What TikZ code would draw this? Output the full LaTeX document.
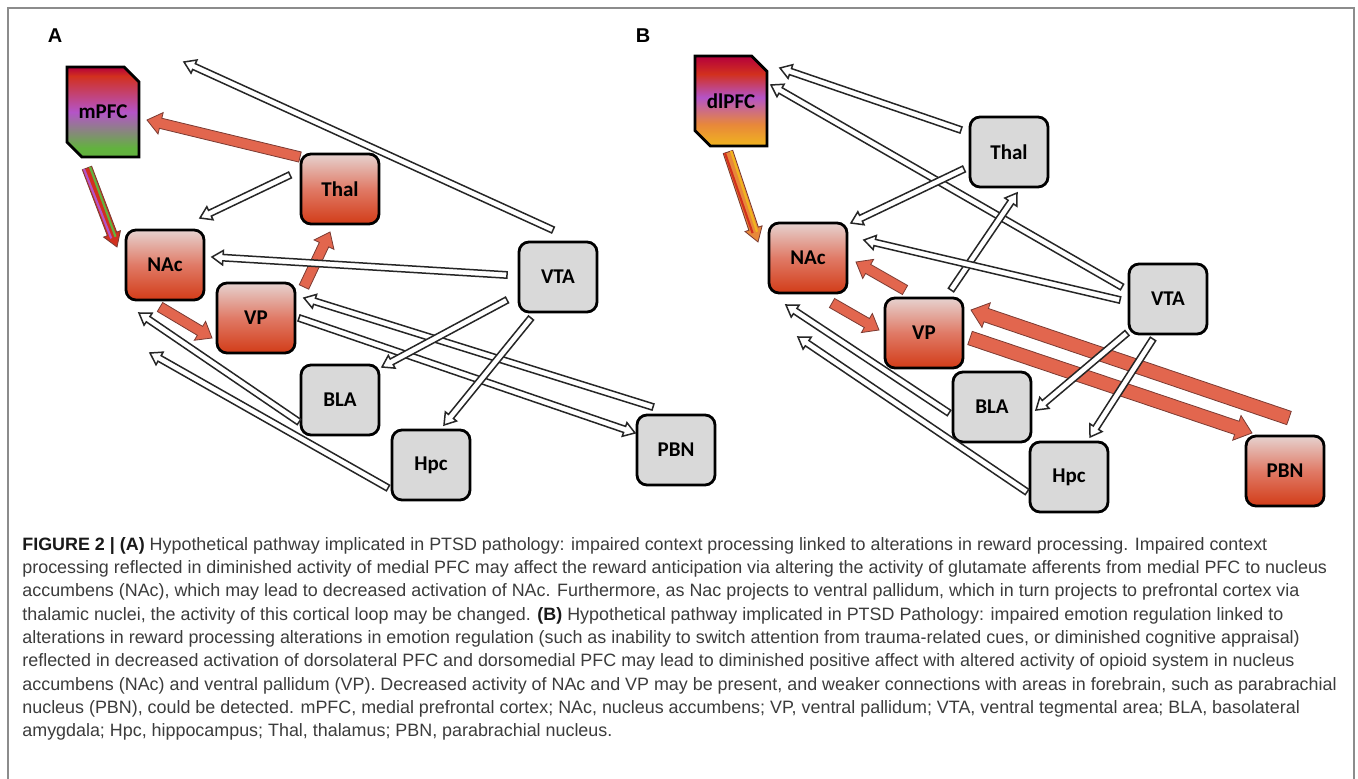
\documentclass[tikz,border=0pt]{standalone}
\usepackage{fontspec}
\setmainfont{Liberation Sans}
\newfontfamily\boxfont{Carlito}
\usetikzlibrary{shapes,shapes.misc,calc,positioning}

\definecolor{clrBorders}{HTML}{8C8C8C}
\definecolor{clrGray}{HTML}{D9D9D9}
\definecolor{clrRedTop}{HTML}{E6D2CF}
\definecolor{clrRedMid}{HTML}{E07A66}
\definecolor{clrRedBot}{HTML}{D23C18}
\definecolor{clrArrow}{HTML}{E2664E}
\definecolor{clrArrowEdge}{HTML}{7A3B33}
\definecolor{clrCaption}{HTML}{3C3C3C}
\definecolor{clrCrimson}{HTML}{B4003C}
\definecolor{clrRed}{HTML}{D2301E}
\definecolor{clrPurple}{HTML}{B454C8}
\definecolor{clrGreen}{HTML}{62B23E}
\definecolor{clrOrange}{HTML}{E8883A}
\definecolor{clrYellow}{HTML}{F0B41E}

\pgfdeclareverticalshading{dlpfcshade}{100bp}{color(0bp)=(clrYellow); color(25bp)=(clrYellow);
  color(37bp)=(clrOrange); color(52bp)=(clrPurple); color(65bp)=(clrRed); color(75bp)=(clrCrimson); color(100bp)=(clrCrimson)}
\pgfdeclareverticalshading{mpfcshade}{100bp}{color(0bp)=(clrGreen); color(25bp)=(clrGreen);
  color(30bp)=(clrGreen); color(50bp)=(clrPurple); color(70bp)=(clrRed); color(75bp)=(clrCrimson); color(100bp)=(clrCrimson)}

\tikzstyle{area}=[draw, line width=1.4pt, rounded corners=5pt, minimum width=39pt, minimum height=35pt,
  inner sep=0pt, font=\boxfont\bfseries\fontsize{10.5}{12}\selectfont]
\tikzstyle{area_gray}=[area, fill=clrGray]
\tikzstyle{area_red}=[area, top color=clrRedTop, bottom color=clrRedBot, middle color=clrRedMid]
\tikzstyle{cortex}=[chamfered rectangle, chamfered rectangle corners={north east,south west},
  chamfered rectangle xsep=4pt, chamfered rectangle ysep=4pt, draw, line width=1.4pt,
  minimum width=36pt, minimum height=45pt, inner sep=0pt, font=\boxfont\bfseries\fontsize{10.5}{12}\selectfont]
\tikzstyle{hollow}=[draw=black!85, line width=0.75pt, fill=white]
\tikzstyle{redarrow}=[draw=clrArrowEdge, line width=0.4pt, fill=clrArrow]
\tikzstyle{panel}=[font=\bfseries\fontsize{10}{12}\selectfont]

% block arrow: [style]{from}{to}{shaft half width}{head half width}{head length}
\newcommand{\blockarrow}[6][]{%
  \coordinate (bas) at (#2);
  \coordinate (bae) at (#3);
  \coordinate (bah) at ($(bae)!#6!(bas)$);
  \path[#1] ($(bas)!#4!90:(bae)$) -- ($(bah)!#4!90:(bae)$) -- ($(bah)!#5!90:(bae)$) -- (bae)
    -- ($(bah)!#5!-90:(bae)$) -- ($(bah)!#4!-90:(bae)$) -- ($(bas)!#4!-90:(bae)$) -- cycle;}
\newcommand{\hollowarrow}[2]{\blockarrow[hollow]{#1}{#2}{1.6pt}{3.6pt}{5.5pt}}
\newcommand{\redarrow}[2]{\blockarrow[redarrow]{#1}{#2}{2.6pt}{5.5pt}{7pt}}
\newcommand{\bigredarrow}[2]{\blockarrow[redarrow]{#1}{#2}{3.5pt}{6.5pt}{8pt}}
% striped arrow: {from}{to}{fill}{west stripe}{east stripe}
\newcommand{\stripearrow}[5]{%
  \blockarrow[draw=clrArrowEdge, line width=0.4pt, fill=#3]{#1}{#2}{2.5pt}{4.5pt}{7pt}
  \draw[#4, line width=1.1pt] ($(bas)!1.6pt!-90:(bae)$) -- ($($(bah)!1.6pt!-90:(bae)$)!2pt!(bae)$);
  \draw[#5, line width=1.1pt] ($(bas)!1.6pt!90:(bae)$) -- ($($(bah)!1.6pt!90:(bae)$)!2pt!(bae)$);}

\begin{document}
\begin{tikzpicture}[x=0.5pt, y=-0.5pt]
	\useasboundingbox (0,0) rectangle (1358,779);
	\fill[white] (0,0) rectangle (1358,779);
	\draw[clrBorders, line width=0.8pt] (8,779) -- (8,8) -- (1354,8) -- (1354,779);

	\node[panel] (labA) at (55,36) {A};
	\node[panel] (labB) at (643,36) {B};

	% panel A
	\node[cortex, shading=mpfcshade] (mPFC) at (103,112) {mPFC};
	\node[area_red] (ThalA) at (340,189) {Thal};
	\node[area_red] (NAcA) at (165,265) {NAc};
	\node[area_red] (VPA) at (256,318) {VP};
	\node[area_gray] (VTAA) at (558,277) {VTA};
	\node[area_gray] (BLAA) at (340,400) {BLA};
	\node[area_gray] (HpcA) at (431,465) {Hpc};
	\node[area_gray] (PBNA) at (676,450) {PBN};
	\coordinate (topA) at (184,62);

	\hollowarrow{$(VTAA)+(-5,-47)$}{topA}
	\redarrow{$(ThalA)+(-40,-32)$}{$(mPFC)+(44,8)$}
	\stripearrow{$(mPFC)+(-16,56)$}{$(NAcA)+(-48,-18)$}{clrRed}{clrPurple}{clrGreen}
	\hollowarrow{$(ThalA)+(-50,-14)$}{$(NAcA)+(35,-47)$}
	\redarrow{$(VPA)+(48,-31)$}{$(ThalA)+(-10,43)$}
	\hollowarrow{$(VTAA)+(-51,-2)$}{$(NAcA)+(47,-8)$}
	\redarrow{$(NAcA)+(-5,42)$}{$(VPA)+(-44,20)$}
	\hollowarrow{$(PBNA)+(-23,-43)$}{$(VPA)+(48,-20)$}
	\hollowarrow{$(VPA)+(43,0)$}{$(PBNA)+(-41,-17)$}
	\hollowarrow{$(VTAA)+(-51,23)$}{$(BLAA)+(42,-33)$}
	\hollowarrow{$(VTAA)+(-27,41)$}{$(HpcA)+(13,-40)$}
	\hollowarrow{$(BLAA)+(-41,22)$}{$(NAcA)+(-26,48)$}
	\hollowarrow{$(HpcA)+(-43,23)$}{$(NAcA)+(-15,88)$}

	% panel B
	\node[cortex, shading=dlpfcshade] (dlPFC) at (731,101) {dlPFC};
	\node[area_gray] (ThalB) at (1009,152) {Thal};
	\node[area_red] (NAcB) at (808,258) {NAc};
	\node[area_red] (VPB) at (924,333) {VP};
	\node[area_gray] (VTAB) at (1168,299) {VTA};
	\node[area_gray] (BLAB) at (992,407) {BLA};
	\node[area_gray] (HpcB) at (1069,477) {Hpc};
	\node[area_red] (PBNB) at (1285,471) {PBN};

	\hollowarrow{$(ThalB)+(-48,-22)$}{$(dlPFC)+(49,-33)$}
	\hollowarrow{$(VTAB)+(-46,-12)$}{$(dlPFC)+(40,-16)$}
	\stripearrow{$(dlPFC)+(-3,51)$}{$(NAcB)+(-50,-16)$}{clrOrange}{clrRed}{clrYellow}
	\hollowarrow{$(ThalB)+(-45,17)$}{$(NAcB)+(43,-35)$}
	\hollowarrow{$(VPB)+(27,-43)$}{$(ThalB)+(8,41)$}
	\hollowarrow{$(VTAB)+(-48,1)$}{$(NAcB)+(56,-18)$}
	\redarrow{$(VPB)+(-19,-43)$}{$(NAcB)+(48,4)$}
	\redarrow{$(NAcB)+(24,45)$}{$(VPB)+(-45,-3)$}
	\bigredarrow{$(PBNB)+(4,-53)$}{$(VPB)+(47,-23)$}
	\bigredarrow{$(VPB)+(46,5)$}{$(PBNB)+(-33,-38)$}
	\hollowarrow{$(VTAB)+(-41,34)$}{$(BLAB)+(44,3)$}
	\hollowarrow{$(VTAB)+(-15,40)$}{$(HpcB)+(21,-40)$}
	\hollowarrow{$(BLAB)+(-43,6)$}{$(NAcB)+(-22,47)$}
	\hollowarrow{$(HpcB)+(-42,15)$}{$(NAcB)+(-10,79)$}

	% caption
	\node[anchor=north west, inner sep=0pt, align=left, text=clrCaption,
		font=\fontsize{8.95}{11.65}\selectfont] (caption) at (22,537)
		{{\color{black!90}\bfseries FIGURE 2 | (A)} Hypothetical pathway implicated in PTSD pathology: impaired context processing linked to alterations in reward processing. Impaired context\\
		processing reflected in diminished activity of medial PFC may affect the reward anticipation via altering the activity of glutamate afferents from medial PFC to nucleus\\
		accumbens (NAc), which may lead to decreased activation of NAc. Furthermore, as Nac projects to ventral pallidum, which in turn projects to prefrontal cortex via\\
		thalamic nuclei, the activity of this cortical loop may be changed. {\color{black!90}\bfseries (B)} Hypothetical pathway implicated in PTSD Pathology: impaired emotion regulation linked to\\
		alterations in reward processing alterations in emotion regulation (such as inability to switch attention from trauma-related cues, or diminished cognitive appraisal)\\
		reflected in decreased activation of dorsolateral PFC and dorsomedial PFC may lead to diminished positive affect with altered activity of opioid system in nucleus\\
		accumbens (NAc) and ventral pallidum (VP). Decreased activity of NAc and VP may be present, and weaker connections with areas in forebrain, such as parabrachial\\
		nucleus (PBN), could be detected. mPFC, medial prefrontal cortex; NAc, nucleus accumbens; VP, ventral pallidum; VTA, ventral tegmental area; BLA, basolateral\\
		amygdala; Hpc, hippocampus; Thal, thalamus; PBN, parabrachial nucleus.};
\end{tikzpicture}
\end{document}
